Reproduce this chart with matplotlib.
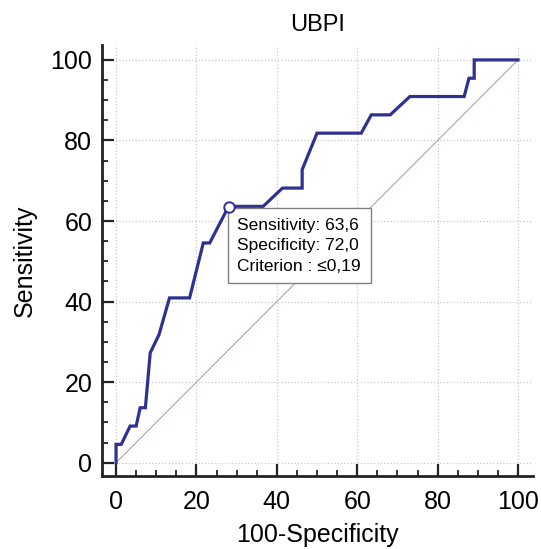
import matplotlib.pyplot as plt
from matplotlib.ticker import MultipleLocator

plt.rcParams['font.family'] = ['Liberation Sans', 'DejaVu Sans']

# ROC curve points
fpr = [0, 0, 1.3, 3.5, 5.0, 6.0, 7.3, 8.5, 10.7, 13.3, 18.3, 21.7, 23.3, 28.0,
       36.6, 41.4, 46.3, 46.3, 50.0, 61.0, 63.5, 68.2, 73.1, 86.6, 87.8, 89.1, 89.1, 100]
sens = [0, 4.55, 4.55, 9.09, 9.09, 13.64, 13.64, 27.27, 31.82, 40.91, 40.91, 54.55, 54.55, 63.64,
        63.64, 68.18, 68.18, 72.73, 81.82, 81.82, 86.36, 86.36, 90.91, 90.91, 95.45, 95.45, 100, 100]

crit_x, crit_y = 28.0, 63.6
info_lines = ["Sensitivity: 63,6", "Specificity: 72,0", "Criterion : \u22640,19"]

fig = plt.figure(figsize=(5.41, 5.49), dpi=100)
ax = fig.add_axes([0.1885, 0.133, 0.7965, 0.785])

# Grid and reference diagonal ---------------------------------
ax.set_xlim(-3.5, 103.7)
ax.set_ylim(-3.3, 103.7)
ax.grid(True, which='major', linestyle=':', color='#c8c8c8', linewidth=0.9)
ax.plot([0, 100], [0, 100], color='#b8a0a0', linewidth=0.8, zorder=2)

# ROC curve
ax.plot(fpr, sens, color='#2e3192', linewidth=2.3, zorder=3, solid_joinstyle='miter')
ax.plot(crit_x, crit_y, 'o', markersize=7.5, markerfacecolor='white',
        markeredgecolor='#2e3192', markeredgewidth=1.4, zorder=5)

# Info box
ax.text(crit_x + 2.2, crit_y - 2.8, "\n".join(info_lines), fontsize=12.5,
        va='top', ha='left', linespacing=1.45, zorder=4,
        bbox=dict(boxstyle='square,pad=0.55', facecolor='white', edgecolor='#808080', linewidth=1))

# Axes styling ------------------------------------------------
for side in ('top', 'right'):
    ax.spines[side].set_visible(False)
for side in ('left', 'bottom'):
    ax.spines[side].set_linewidth(2.0)
    ax.spines[side].set_color('#222222')

ax.xaxis.set_major_locator(MultipleLocator(20))
ax.yaxis.set_major_locator(MultipleLocator(20))
ax.xaxis.set_minor_locator(MultipleLocator(5))
ax.yaxis.set_minor_locator(MultipleLocator(5))
ax.tick_params(which='major', direction='in', length=8.5, width=1.6, labelsize=18,
               color='#222222', pad=7)
ax.tick_params(axis='x', which='major', pad=10)
ax.tick_params(which='minor', direction='in', length=4.5, width=1.3, color='#222222')

ax.set_xlabel("100-Specificity", fontsize=18, labelpad=6.5)
ax.set_ylabel("Sensitivity", fontsize=18, labelpad=10)
ax.set_title("UBPI", fontsize=17, pad=10)

fig.savefig("out.png", dpi=100)
